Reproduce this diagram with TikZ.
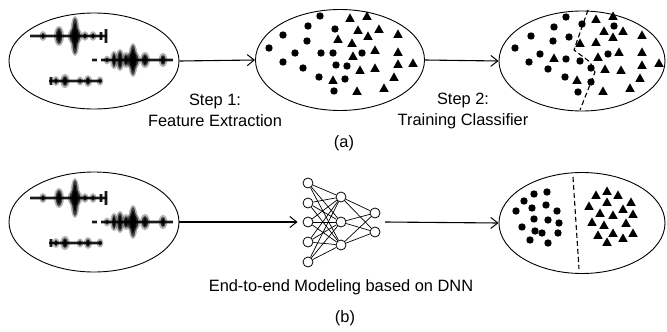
\documentclass[tikz,border=0pt]{standalone}
\usepackage{fontspec}
\setmainfont{Liberation Sans}
\usetikzlibrary{shapes.geometric,arrows.meta}
\newcommand\wblob[4]{%
  \fill[black,opacity=0.3] (#1,#2) ellipse ({#3+1.8} and {#4+2});
  \fill[black,opacity=0.65] (#1,#2) ellipse ({#3} and {#4});
  \fill[black,opacity=0.85] (#1,#2) ellipse ({#3*0.6} and {#4*0.75});}
\newcommand\wline[3]{%
  \draw[black,opacity=0.3,line width=3.8pt] (#1,#3) -- (#2,#3);
  \draw[black,opacity=0.85,line width=1.8pt] (#1,#3) -- (#2,#3);}
\newcommand\wbar[3]{%
  \draw[black,opacity=0.35,line width=3.2pt] (#1,{#2-#3}) -- (#1,{#2+#3});
  \draw[black,opacity=0.85,line width=1.6pt] (#1,{#2-#3}) -- (#1,{#2+#3});}
\newcommand\waveforms{%
  % wave 1
  \wline{30}{107}{36}
  \wblob{43}{36}{1.8}{3}
  \wblob{59}{36}{3.2}{8}
  \wblob{75}{36}{5.5}{6.5}
  \wblob{75}{36}{3}{18}
  \wblob{85}{36}{1.8}{2.8}
  \wblob{93}{36}{1.8}{2.8}
  \wbar{101}{36}{4}
  \wbar{106}{36}{7}
  % wave 2
  \wline{92}{97}{60}
  \wline{101}{173}{60}
  \wblob{107}{60}{1.5}{2.5}
  \wblob{114}{60}{2}{7}
  \wblob{120}{60}{2.6}{9}
  \wblob{126}{60}{2.2}{6}
  \wblob{133}{60}{5.5}{7}
  \wblob{133}{60}{3}{15}
  \wblob{145}{60}{3.2}{6}
  \wblob{163}{60}{2.6}{5}
  % wave 3
  \wline{49}{102}{81}
  \wbar{51}{81}{4}
  \wblob{56}{81}{1.6}{3}
  \wblob{65}{81}{3}{5}
  \wblob{80}{81}{1.6}{2.6}
  \wblob{88}{81}{2.2}{4}
  \wblob{100}{81}{1.6}{2.6}}
\tikzset{
  oval/.style={draw,ellipse,line width=0.9pt,inner sep=0pt},
  flow/.style={line width=1.1pt,-{Straight Barb[length=7pt,width=11pt,line width=1pt]}},
  neuron/.style={draw,circle,minimum size=10pt,inner sep=0pt,line width=0.8pt,fill=white},
  syn/.style={line width=0.7pt},
  lbl/.style={font=\fontsize{16.4}{21}\selectfont,align=center,inner sep=0pt},
  sep/.style={line width=1.1pt,dash pattern=on 5pt off 3pt}
}
\newcommand\dotset[1]{\foreach \x/\y in {#1} \fill (\x,\y) circle (3.7);}
\newcommand\triset[1]{\foreach \x/\y in {#1} \fill (\x-4.7,\y+3.8) -- (\x+4.7,\y+3.8) -- (\x,\y-4.6) -- cycle;}
\begin{document}
\begin{tikzpicture}[x=1pt,y=-1pt]
\useasboundingbox (0,0) rectangle (667,332);
% ---------- (a) ----------
\node[oval,minimum width=170pt,minimum height=96pt] (e1) at (94,61) {};
\node[oval,minimum width=169pt,minimum height=101pt] (e2) at (340,60) {};
\node[oval,minimum width=166pt,minimum height=100pt] (e3) at (582,61) {};
\waveforms
\draw[flow] (e1.east) -- (e2.west);
\draw[flow] (e2.east) -- (e3.west);
\node[lbl] (s1) at (215,110.5) {Step 1:\\Feature Extraction};
\node[lbl] (s2) at (463,110.5) {Step 2:\\Training Classifier};
\node[lbl] (la) at (344,143) {(a)};
% ellipse 2 points
\dotset{320/16,308/26,335/29,283/35,307/41,269/48,295/53,321/53,333/53,362/53,283/62,336/65,347/66,303/68,319/77,345/79,334/91}
\triset{350/18,367/16,358/30,379/29,338/39,368/36,398/34,352/43,375/50,398/52,353/56,413/63,398/64,375/68,360/70,333/80,394/77,384/88,357/91}
% ellipse 3 points
\dotset{566/17,582/24,614/26,554/27,531/36,553/41,569/37,515/48,540/54,529/62,548/69,566/59,580/61,608/54,591/68,565/77,591/82,578/92}
\triset{596/19,613/16,604/31,623/31,642/35,613/37,580/43,596/42,554/58,619/52,642/52,598/57,659/63,642/65,605/69,621/70,577/80,640/78,603/91,630/88}
\draw[sep] (588,10) -- (576,44) -- (574,50) -- (590,62) -- (595,72) -- (580,110);
% ---------- (b) ----------
\node[oval,minimum width=170pt,minimum height=100pt] (f1) at (94,222) {};
\node[oval,minimum width=166pt,minimum height=101pt] (f3) at (582,223) {};
\begin{scope}[shift={(0,162)}]
\waveforms
\end{scope}
% network
\foreach \i/\y in {1/183,2/203,3/222,4/242,5/262} \node[neuron] (i\i) at (308,\y) {};
\foreach \i/\y in {1/197,2/222,3/245} \node[neuron] (h\i) at (341,\y) {};
\foreach \i/\y in {1/213,2/232} \node[neuron] (o\i) at (375,\y) {};
\foreach \a in {1,...,5} \foreach \b in {1,2,3} \draw[syn] (i\a) -- (h\b);
\foreach \a in {1,2,3} \foreach \b in {1,2} \draw[syn] (h\a) -- (o\b);
\draw[flow,shorten >=5pt] (f1.east) -- (i3.west);
\coordinate (nnout) at (385,222);
\draw[flow] (nnout) -- (f3.west);
\node[lbl] (lend) at (341,287) {End-to-end Modeling based on DNN};
\node[lbl] (lb) at (345,318) {(b)};
% separated points
\dotset{547/192,534/194,524/201,516/211,532/208,546/205,557/211,534/219,548/220,559/223,522/227,535/231,542/233,558/233,530/240,548/243}
\triset{596/195,607/191,618/195,589/206,607/202,631/202,623/209,600/213,613/215,633/214,592/222,604/225,626/223,598/235,613/233,633/233,607/242,623/238}
\draw[sep] (573,177) -- (579,269);
\end{tikzpicture}
\end{document}
